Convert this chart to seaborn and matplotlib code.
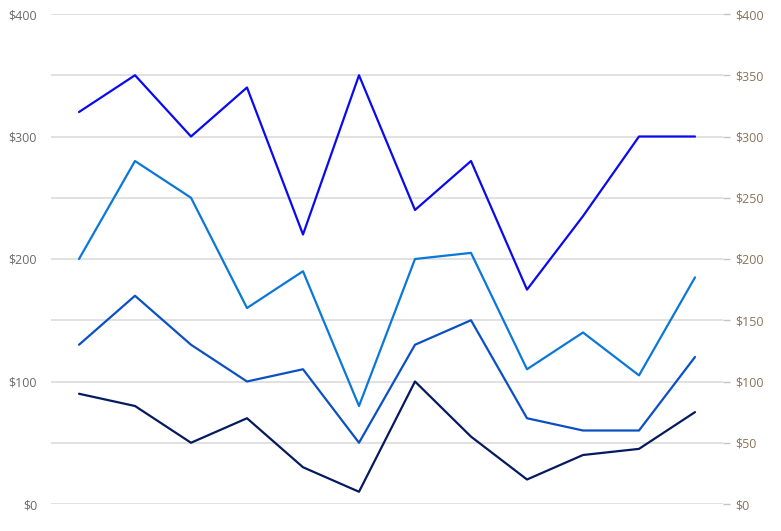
import matplotlib
matplotlib.use("Agg")
import matplotlib.pyplot as plt
import seaborn as sns
import pandas as pd
from matplotlib.ticker import FuncFormatter, MultipleLocator

# Data (12 categories, 4 series)
points = list(range(12))
series_a = [320, 350, 300, 340, 220, 350, 240, 280, 175, 235, 300, 300]
series_b = [200, 280, 250, 160, 190, 80, 200, 205, 110, 140, 105, 185]
series_c = [130, 170, 130, 100, 110, 50, 130, 150, 70, 60, 60, 120]
series_d = [90, 80, 50, 70, 30, 10, 100, 55, 20, 40, 45, 75]
series_names = ["A", "B", "C", "D"]
colors = ["#0a0af0", "#0a78d8", "#0a50c4", "#061a60"]

df = pd.DataFrame({
    "x": points * 4,
    "value": series_a + series_b + series_c + series_d,
    "series": sum([[n] * 12 for n in series_names], []),
})

sns.set_theme(style="white")
plt.rcParams["font.family"] = ["Open Sans", "DejaVu Sans"]

fig = plt.figure(figsize=(7.81, 5.31), dpi=100)
ax = fig.add_axes([51 / 781, 1 - 504 / 531, (723 - 51) / 781, (504 - 14) / 531])

sns.lineplot(data=df, x="x", y="value", hue="series", palette=colors,
             linewidth=1.6, legend=False, ax=ax)

ax.set_xlim(-0.5, 11.5)
ax.set_ylim(0, 400)
ax.yaxis.set_major_locator(MultipleLocator(100))
ax.yaxis.set_minor_locator(MultipleLocator(50))
money = FuncFormatter(lambda v, _: f"${v:.0f}")
ax.yaxis.set_major_formatter(money)
ax.grid(True, which="both", axis="y", color="#dcdcdc", linewidth=1.2)
ax.set_axisbelow(True)
ax.set_xticks([])
ax.set_xlabel("")
ax.set_ylabel("")
for s in ax.spines.values():
    s.set_visible(False)
ax.tick_params(axis="y", which="both", length=0, pad=10, labelsize=9, labelcolor="#6a6a6a")

ax2 = ax.twinx()
ax2.set_ylim(0, 400)
ax2.yaxis.set_major_locator(MultipleLocator(50))
ax2.yaxis.set_major_formatter(money)
for s in ax2.spines.values():
    s.set_visible(False)
ax2.tick_params(axis="y", length=5, width=1, color="#c4c4c4", pad=4,
                labelsize=9, labelcolor="#8a7258")
ax2.grid(False)

fig.savefig("out.png", dpi=100, facecolor="white")
